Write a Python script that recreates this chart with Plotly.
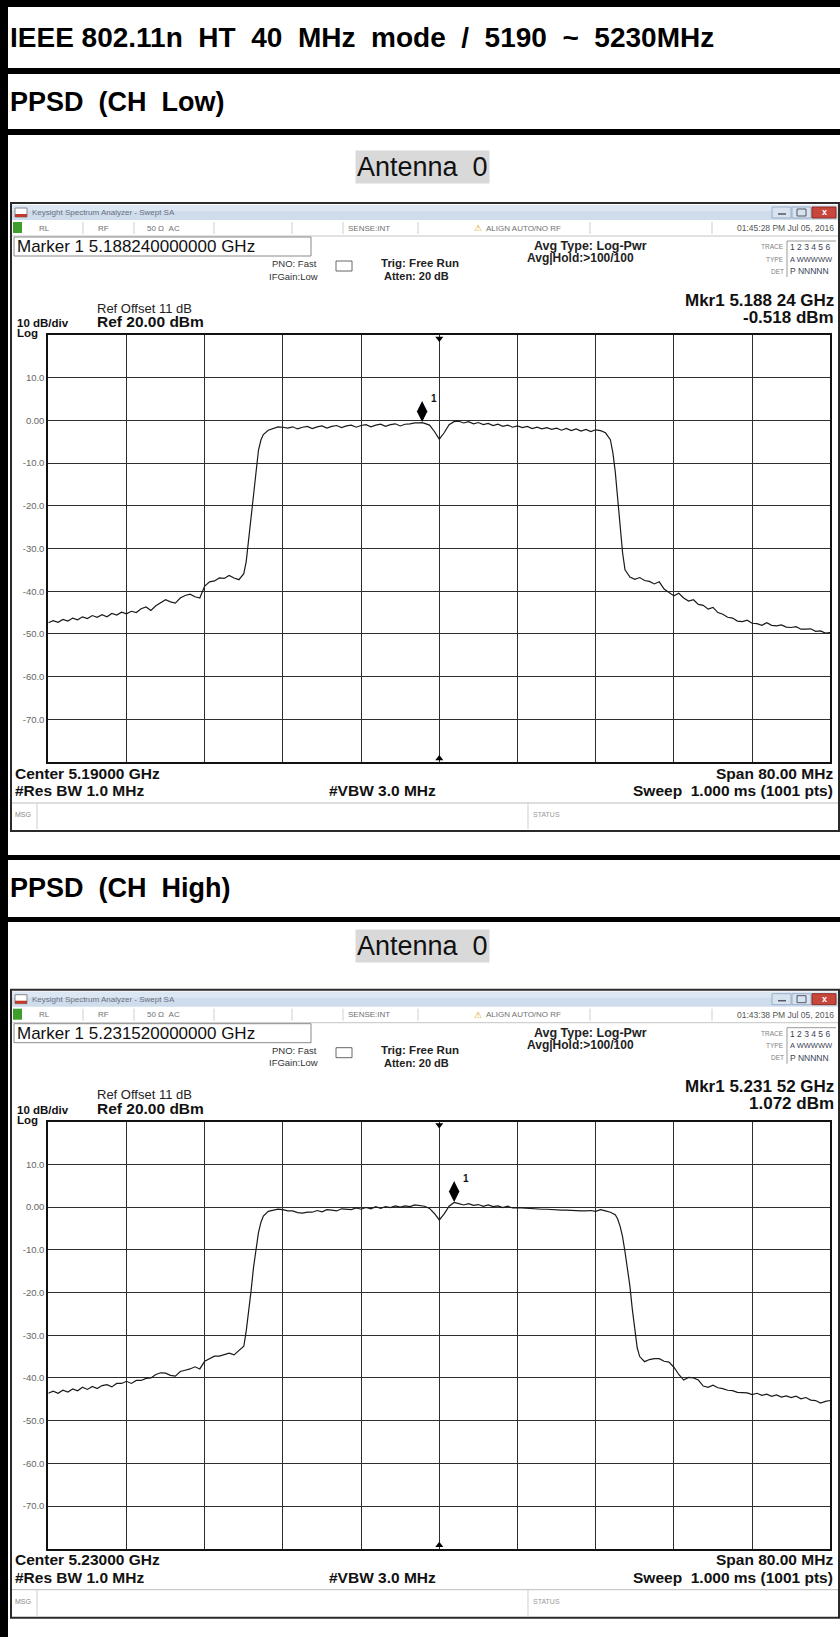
import plotly.graph_objects as go

W, H = 840, 1637
SANS = "Liberation Sans, Arial, Helvetica, sans-serif"

# ---------------- document text ----------------
title_text = "IEEE 802.11n  HT  40  MHz  mode  /  5190  ~  5230MHz"
section_titles = ["PPSD  (CH  Low)", "PPSD  (CH  High)"]
antenna_label = "Antenna  0"

# ---------------- analyzer settings ----------------
center_mhz = [5190.0, 5230.0]
center_text = ["Center 5.19000 GHz", "Center 5.23000 GHz"]
span_mhz = 80.0
ref_level_dbm = 20.0
db_per_div = 10.0
n_div = 10
marker_freq_mhz = [5188.24, 5231.52]
marker_level_dbm = [-0.518, 1.072]
marker_box_text = ["Marker 1 5.188240000000 GHz", "Marker 1 5.231520000000 GHz"]
marker_readout = ["Mkr1 5.188 24 GHz", "Mkr1 5.231 52 GHz"]
marker_value_text = ["-0.518 dBm", "1.072 dBm"]
timestamps = ["01:45:28 PM Jul 05, 2016", "01:43:38 PM Jul 05, 2016"]
y_tick_values = [10, 0, -10, -20, -30, -40, -50, -60, -70]
y_tick_text = ["10.0", "0.00", "-10.0", "-20.0", "-30.0", "-40.0", "-50.0", "-60.0", "-70.0"]

# ---------------- measured traces (MHz, dBm) ----------------
low_freq_mhz = [
    5150.0, 5150.5, 5151.0, 5151.5, 5152.0, 5152.5, 5153.0, 5153.5, 5154.0, 5154.5,
    5155.0, 5155.5, 5156.0, 5156.5, 5157.0, 5157.5, 5158.0, 5158.5, 5159.0, 5159.5,
    5160.0, 5160.5, 5161.0, 5161.5, 5162.0, 5162.5, 5163.0, 5163.5, 5164.0, 5164.5,
    5165.0, 5165.5, 5166.0, 5166.5, 5167.0, 5167.5, 5168.0, 5168.5, 5169.0, 5169.5,
    5170.0, 5170.25, 5170.5, 5170.75, 5171.0, 5171.25, 5171.5, 5171.75, 5172.0, 5172.5,
    5173.0, 5173.5, 5174.0, 5174.5, 5175.0, 5175.5, 5176.0, 5176.5, 5177.0, 5177.5,
    5178.0, 5178.5, 5179.0, 5179.5, 5180.0, 5180.5, 5181.0, 5181.5, 5182.0, 5182.5,
    5183.0, 5183.5, 5184.0, 5184.5, 5185.0, 5185.5, 5186.0, 5186.5, 5187.0, 5187.5,
    5188.0, 5188.24, 5188.5, 5189.0, 5189.5, 5190.0, 5190.5, 5191.0, 5191.5, 5192.0,
    5192.5, 5193.0, 5193.5, 5194.0, 5194.5, 5195.0, 5195.5, 5196.0, 5196.5, 5197.0,
    5197.5, 5198.0, 5198.5, 5199.0, 5199.5, 5200.0, 5200.5, 5201.0, 5201.5, 5202.0,
    5202.5, 5203.0, 5203.5, 5204.0, 5204.5, 5205.0, 5205.5, 5206.0, 5206.5, 5207.0,
    5207.5, 5207.75, 5208.0, 5208.25, 5208.5, 5208.75, 5209.0, 5209.5, 5210.0, 5210.5,
    5211.0, 5211.5, 5212.0, 5212.5, 5213.0, 5213.5, 5214.0, 5214.5, 5215.0, 5215.5,
    5216.0, 5216.5, 5217.0, 5217.5, 5218.0, 5218.5, 5219.0, 5219.5, 5220.0, 5220.5,
    5221.0, 5221.5, 5222.0, 5222.5, 5223.0, 5223.5, 5224.0, 5224.5, 5225.0, 5225.5,
    5226.0, 5226.5, 5227.0, 5227.5, 5228.0, 5228.5, 5229.0, 5229.5, 5230.0,
]
low_level_dbm = [
    -47.4, -46.9, -47.3, -46.6, -47.0, -46.3, -46.7, -46.0, -46.4, -45.7,
    -46.1, -45.5, -46.0, -45.2, -45.6, -44.9, -45.3, -44.7, -45.0, -44.1,
    -43.7, -44.5, -43.4, -42.6, -42.0, -42.5, -42.8, -41.6, -41.0, -40.7,
    -41.3, -41.6, -38.8, -37.8, -37.6, -36.9, -37.0, -36.3, -36.9, -37.3,
    -35.9, -33.0, -27.5, -22.0, -16.5, -11.0, -7.0, -4.6, -3.3, -2.3,
    -1.9, -1.5, -1.6, -1.8, -1.5, -2.0, -1.6, -1.4, -1.9, -1.5,
    -1.3, -1.8, -1.4, -1.2, -1.7, -1.3, -1.1, -1.6, -1.2, -1.0,
    -1.5, -1.1, -0.9, -1.4, -1.0, -0.8, -1.3, -0.9, -0.8, -0.6,
    -0.6, -0.518, -0.7, -1.1, -2.6, -4.4, -2.9, -1.0, -0.3, -0.2,
    -0.6, -0.3, -0.8, -0.5, -1.0, -0.7, -1.2, -0.9, -1.4, -1.1,
    -1.6, -1.3, -1.7, -1.4, -1.9, -1.6, -2.0, -1.7, -2.1, -1.8,
    -2.3, -1.9, -2.4, -2.0, -2.5, -2.1, -2.6, -2.2, -2.4, -2.9,
    -4.5, -7.5, -12.0, -18.5, -25.0, -31.0, -35.0, -36.7, -37.2, -36.8,
    -37.5, -37.7, -38.3, -37.8, -39.5, -40.4, -41.1, -40.5, -41.6, -42.3,
    -42.0, -43.1, -43.3, -44.2, -43.8, -45.0, -45.4, -46.1, -46.3, -47.0,
    -47.1, -46.8, -47.5, -47.6, -48.0, -47.4, -48.0, -48.1, -47.9, -48.4,
    -48.5, -48.3, -48.9, -48.9, -48.8, -49.4, -49.3, -49.8, -49.7,
]

high_freq_mhz = [
    5190.0, 5190.5, 5191.0, 5191.5, 5192.0, 5192.5, 5193.0, 5193.5, 5194.0, 5194.5,
    5195.0, 5195.5, 5196.0, 5196.5, 5197.0, 5197.5, 5198.0, 5198.5, 5199.0, 5199.5,
    5200.0, 5200.5, 5201.0, 5201.5, 5202.0, 5202.5, 5203.0, 5203.5, 5204.0, 5204.5,
    5205.0, 5205.5, 5206.0, 5206.5, 5207.0, 5207.5, 5208.0, 5208.5, 5209.0, 5209.5,
    5210.0, 5210.25, 5210.5, 5210.75, 5211.0, 5211.25, 5211.5, 5211.75, 5212.0, 5212.5,
    5213.0, 5213.5, 5214.0, 5214.5, 5215.0, 5215.5, 5216.0, 5216.5, 5217.0, 5217.5,
    5218.0, 5218.5, 5219.0, 5219.5, 5220.0, 5220.5, 5221.0, 5221.5, 5222.0, 5222.5,
    5223.0, 5223.5, 5224.0, 5224.5, 5225.0, 5225.5, 5226.0, 5226.5, 5227.0, 5227.5,
    5228.0, 5228.5, 5229.0, 5229.5, 5230.0, 5230.5, 5231.0, 5231.52, 5232.0, 5232.5,
    5233.0, 5233.5, 5234.0, 5234.5, 5235.0, 5235.5, 5236.0, 5236.5, 5237.0, 5237.5,
    5238.0, 5238.5, 5239.0, 5239.5, 5240.0, 5240.5, 5241.0, 5241.5, 5242.0, 5242.5,
    5243.0, 5243.5, 5244.0, 5244.5, 5245.0, 5245.5, 5246.0, 5246.5, 5247.0, 5247.5,
    5248.0, 5248.25, 5248.5, 5248.75, 5249.0, 5249.25, 5249.5, 5249.75, 5250.0, 5250.25,
    5250.5, 5251.0, 5251.5, 5252.0, 5252.5, 5253.0, 5253.5, 5254.0, 5254.5, 5255.0,
    5255.5, 5256.0, 5256.5, 5257.0, 5257.5, 5258.0, 5258.5, 5259.0, 5259.5, 5260.0,
    5260.5, 5261.0, 5261.5, 5262.0, 5262.5, 5263.0, 5263.5, 5264.0, 5264.5, 5265.0,
    5265.5, 5266.0, 5266.5, 5267.0, 5267.5, 5268.0, 5268.5, 5269.0, 5269.5, 5270.0,
]
high_level_dbm = [
    -43.6, -43.1, -43.6, -42.9, -43.3, -42.6, -43.0, -42.2, -42.7, -42.0,
    -42.5, -41.8, -41.6, -42.1, -41.3, -41.3, -40.8, -41.3, -40.6, -40.6,
    -40.1, -40.0, -39.2, -38.8, -38.9, -39.4, -39.6, -38.5, -38.2, -37.9,
    -37.4, -37.9, -36.1, -35.4, -34.9, -34.9, -34.5, -34.2, -34.6, -33.6,
    -32.6, -29.0, -24.5, -19.5, -14.0, -9.5, -6.0, -3.6, -2.1, -1.0,
    -0.7, -0.5, -0.6, -0.9, -0.9, -1.3, -1.4, -1.2, -1.2, -0.8,
    -1.1, -0.6, -0.7, -0.9, -0.4, -0.5, -0.6, -0.2, -0.5, -0.1,
    -0.4, 0.1, -0.3, 0.1, -0.1, 0.3, 0.0, 0.3, 0.1, 0.5,
    0.4, 0.2, -0.3, -1.5, -3.0, -1.6, 0.2, 1.072, 0.8, 0.5,
    0.8, 0.4, 0.6, 0.2, 0.5, 0.1, 0.3, -0.1, 0.2, -0.2,
    -0.1, -0.2, -0.3, -0.4, -0.4, -0.5, -0.5, -0.6, -0.6, -0.7,
    -0.7, -0.8, -0.8, -0.9, -0.9, -0.8, -1.0, -0.6, -0.9, -1.2,
    -1.8, -2.8, -4.5, -7.0, -10.5, -14.5, -18.5, -24.0, -29.0, -33.0,
    -35.0, -36.2, -35.7, -35.5, -35.5, -36.1, -36.3, -37.5, -39.2, -40.5,
    -39.9, -40.0, -40.5, -41.9, -42.2, -41.7, -42.3, -42.5, -42.9, -43.0,
    -43.4, -43.4, -43.5, -43.9, -43.6, -44.1, -43.8, -44.3, -44.0, -44.5,
    -44.2, -44.6, -44.3, -44.9, -44.6, -45.2, -45.3, -45.9, -45.5, -45.3,
]

traces_freq = [low_freq_mhz, high_freq_mhz]
traces_level = [low_level_dbm, high_level_dbm]

# ---------------- page geometry (pixels from top-left) ----------------
PANEL_STEP = 786.7          # vertical distance between the two analyzer panels
PLOT_X0, PLOT_X1 = 48.3, 830.3
PLOT_Y0, PLOT_Y1 = 335.0, 762.0
DIAMOND_LIFT_PX = 11.0

shapes, anns = [], []


def fx(x):
    return x / W


def fy(y):
    return 1 - y / H


def rect(x0, y0, x1, y1, fill=None, line=None, lw=0, layer="above"):
    shapes.append(dict(type="rect", xref="paper", yref="paper",
                       x0=fx(x0), x1=fx(x1), y0=fy(y1), y1=fy(y0),
                       fillcolor=fill if fill else "rgba(0,0,0,0)",
                       line=dict(color=line if line else "rgba(0,0,0,0)", width=lw),
                       layer=layer))


def hline(x0, x1, y, color, lw=1):
    shapes.append(dict(type="line", xref="paper", yref="paper",
                       x0=fx(x0), x1=fx(x1), y0=fy(y), y1=fy(y),
                       line=dict(color=color, width=lw), layer="above"))


def vline(x, y0, y1, color, lw=1):
    shapes.append(dict(type="line", xref="paper", yref="paper",
                       x0=fx(x), x1=fx(x), y0=fy(y0), y1=fy(y1),
                       line=dict(color=color, width=lw), layer="above"))


def text(x, y, s, size, color="#1a1a1a", anchor="left", bold=False, bg=None, pad=0):
    anns.append(dict(xref="paper", yref="paper", x=fx(x), y=fy(y),
                     text=("<b>%s</b>" % s) if bold else s, showarrow=False,
                     xanchor=anchor, yanchor="middle", borderpad=pad,
                     bgcolor=bg if bg else "rgba(0,0,0,0)",
                     font=dict(size=size, color=color, family=SANS)))


# ---------------- document table ----------------
rect(0, 0, W, 7, fill="#000")                     # top rule
rect(0, 0, 8, H, fill="#000")                     # left rule
rect(0, 68, W, 74, fill="#000")
rect(0, 129, W, 135, fill="#000")
rect(0, 855, W, 860, fill="#000")
rect(0, 917, W, 922, fill="#000")

text(9, 38, title_text, 28, "#000", bold=True)
text(9, 102, section_titles[0], 27, "#000", bold=True)
text(9, 888, section_titles[1], 27, "#000", bold=True)


def analyzer_panel(k, oy):
    # Antenna caption with grey highlight
    text(422, 167 + oy - (k * 8), antenna_label, 27, "#111", anchor="center", bg="#d9d9d9", pad=1)

    # window frame
    rect(11, 203 + oy, 839, 831 + oy, line="#2a2a2a", lw=2)
    # title bar
    rect(12, 205 + oy, 838, 220 + oy, fill="#cfdcec")
    rect(12, 205 + oy, 838, 211 + oy, fill="#dde7f3")
    rect(15, 208 + oy, 27, 217 + oy, fill="#ffffff", line="#888", lw=1)
    rect(15, 214 + oy, 27, 217 + oy, fill="#c0392b")
    text(31, 212.5 + oy, "Keysight Spectrum Analyzer - Swept SA", 8, "#6a7080")
    rect(772, 207 + oy, 791, 218 + oy, fill="#d8e3f0", line="#9aaec6", lw=1)
    rect(792, 207 + oy, 811, 218 + oy, fill="#d8e3f0", line="#9aaec6", lw=1)
    rect(812, 207 + oy, 836, 218 + oy, fill="#c8473d", line="#8a2a22", lw=1)
    text(824, 212.5 + oy, "x", 9, "#ffffff", anchor="center", bold=True)
    hline(778, 786, 214 + oy, "#556", 1.5)
    rect(797, 209 + oy, 806, 216 + oy, line="#556", lw=1)

    # status row
    hline(12, 838, 236 + oy, "#c4c4c4", 1)
    rect(13, 222 + oy, 22, 233 + oy, fill="#3f9d2c")
    for sx in (83, 134, 214, 292, 343, 418, 590, 712):
        vline(sx, 222 + oy, 234 + oy, "#cfcfcf", 1)
    status = [(38, "RL"), (97, "RF"), (146, "50 \u03a9  AC"), (347, "SENSE:INT"),
              (485, "ALIGN AUTO/NO RF")]
    for sx, s in status:
        text(sx, 228 + oy, s, 8, "#707070")
    text(478, 228 + oy, "\u26a0", 9, "#d4a400", anchor="center")
    text(835, 228 + oy, timestamps[k], 8.5, "#555", anchor="right")

    # marker / acquisition settings
    rect(14, 237 + oy, 311, 256 + oy, line="#8a8a8a", lw=1)
    text(16, 246.5 + oy, marker_box_text[k], 17, "#111")
    text(271, 264 + oy, "PNO: Fast", 9.5, "#333")
    text(268, 276 + oy, "IFGain:Low", 9.5, "#333")
    rect(336, 261 + oy, 352, 271 + oy, line="#666", lw=1)
    text(380, 263 + oy, "Trig: Free Run", 11.5, "#222", bold=True)
    text(383, 276 + oy, "Atten: 20 dB", 11, "#222", bold=True)
    text(533, 246 + oy, "Avg Type: Log-Pwr", 12.5, "#222", bold=True)
    text(526, 258 + oy, "Avg|Hold:>100/100", 12, "#222", bold=True)

    # trace table
    vline(787, 241 + oy, 277 + oy, "#9a9a9a", 1)
    hline(787, 836, 241 + oy, "#9a9a9a", 1)
    for ty, lab, val, sz in ((247, "TRACE", "1 2 3 4 5 6", 8.5), (259, "TYPE", "A WWWWW", 7.5),
                             (271, "DET", "P NNNNN", 8.5)):
        text(785, ty + oy, lab, 6.5, "#808080", anchor="right")
        text(789, ty + oy, val, sz, "#3a3f55")

    # marker readout and reference level
    text(835, 300 + oy, marker_readout[k], 17, "#111", anchor="right", bold=True)
    text(835, 317 + oy, marker_value_text[k], 17, "#111", anchor="right", bold=True)
    text(96, 308 + oy, "Ref Offset 11 dB", 13, "#222")
    text(96, 322 + oy, "Ref %.2f dBm" % ref_level_dbm, 15.5, "#111", bold=True)
    text(16, 323 + oy, "%d dB/div" % db_per_div, 11.5, "#111", bold=True)
    text(16, 333 + oy, "Log", 11.5, "#111", bold=True)

    # footer
    text(14, 773 + oy, center_text[k], 15.5, "#111", bold=True)
    text(14, 791 + oy, "#Res BW 1.0 MHz", 15.5, "#111", bold=True)
    text(328, 791 + oy, "#VBW 3.0 MHz", 15.5, "#111", bold=True)
    text(834, 773 + oy, "Span %.2f MHz" % span_mhz, 15.5, "#111", anchor="right", bold=True)
    text(834, 791 + oy, "Sweep  1.000 ms (1001 pts)", 15.5, "#111", anchor="right", bold=True)
    hline(12, 838, 803 + oy, "#bdbdbd", 1)
    vline(37, 803 + oy, 829 + oy, "#cfcfcf", 1)
    vline(528, 803 + oy, 829 + oy, "#cfcfcf", 1)
    text(14, 815 + oy, "MSG", 7, "#888")
    text(532, 815 + oy, "STATUS", 7, "#999")


for k in range(2):
    analyzer_panel(k, k * PANEL_STEP)

fig = go.Figure()

layout_axes = {}
for k in range(2):
    oy = k * PANEL_STEP
    c = center_mhz[k]
    xa = "x" if k == 0 else "x2"
    ya = "y" if k == 0 else "y2"
    lo, hi = c - span_mhz / 2, c + span_mhz / 2
    div_mhz = span_mhz / n_div
    bottom = ref_level_dbm - db_per_div * n_div
    px_per_db = (PLOT_Y1 - PLOT_Y0) / (db_per_div * n_div)

    fig.add_trace(go.Scatter(x=traces_freq[k], y=traces_level[k], mode="lines",
                             line=dict(color="#1a1a1a", width=1.2),
                             xaxis=xa, yaxis=ya, hoverinfo="skip"))
    # marker 1 diamond, sitting on the trace point
    fig.add_trace(go.Scatter(x=[marker_freq_mhz[k]],
                             y=[marker_level_dbm[k] + DIAMOND_LIFT_PX / px_per_db],
                             mode="markers", cliponaxis=False,
                             marker=dict(symbol="diamond-tall", size=15, color="#000"),
                             xaxis=xa, yaxis=ya, hoverinfo="skip"))
    anns.append(dict(xref=xa, yref=ya, x=marker_freq_mhz[k], y=marker_level_dbm[k],
                     text="<b>1</b>", showarrow=False, xshift=12, yshift=24,
                     font=dict(size=10, color="#111", family=SANS)))
    # centre-frequency indicators on top and bottom edges
    fig.add_trace(go.Scatter(x=[c, c], y=[ref_level_dbm - 0.8, bottom + 0.8], mode="markers",
                             cliponaxis=False,
                             marker=dict(symbol=["triangle-down", "triangle-up"], size=7,
                                         color="#000"),
                             xaxis=xa, yaxis=ya, hoverinfo="skip"))

    key = "" if k == 0 else "2"
    layout_axes["xaxis" + key] = dict(
        domain=[fx(PLOT_X0), fx(PLOT_X1)], range=[lo, hi], anchor=ya,
        tickmode="array", tickvals=[lo + div_mhz * i for i in range(1, n_div)],
        showticklabels=False, ticks="", showgrid=True, gridcolor="#2e2e2e", gridwidth=1.3,
        zeroline=False, showline=True, mirror=True, linecolor="#111", linewidth=2,
        fixedrange=True)
    layout_axes["yaxis" + key] = dict(
        domain=[fy(PLOT_Y1 + oy), fy(PLOT_Y0 + oy)], range=[bottom, ref_level_dbm], anchor=xa,
        tickmode="array", tickvals=y_tick_values, ticktext=y_tick_text,
        tickfont=dict(size=9.5, color="#666", family=SANS), ticks="",
        showgrid=True, gridcolor="#2e2e2e", gridwidth=1.3, zeroline=False,
        showline=True, mirror=True, linecolor="#111", linewidth=2, fixedrange=True)

fig.update_layout(
    width=W, height=H, margin=dict(l=0, r=0, t=0, b=0),
    paper_bgcolor="#ffffff", plot_bgcolor="#ffffff", showlegend=False,
    shapes=shapes, annotations=anns, hovermode=False, **layout_axes)

fig.write_html("out.html")
